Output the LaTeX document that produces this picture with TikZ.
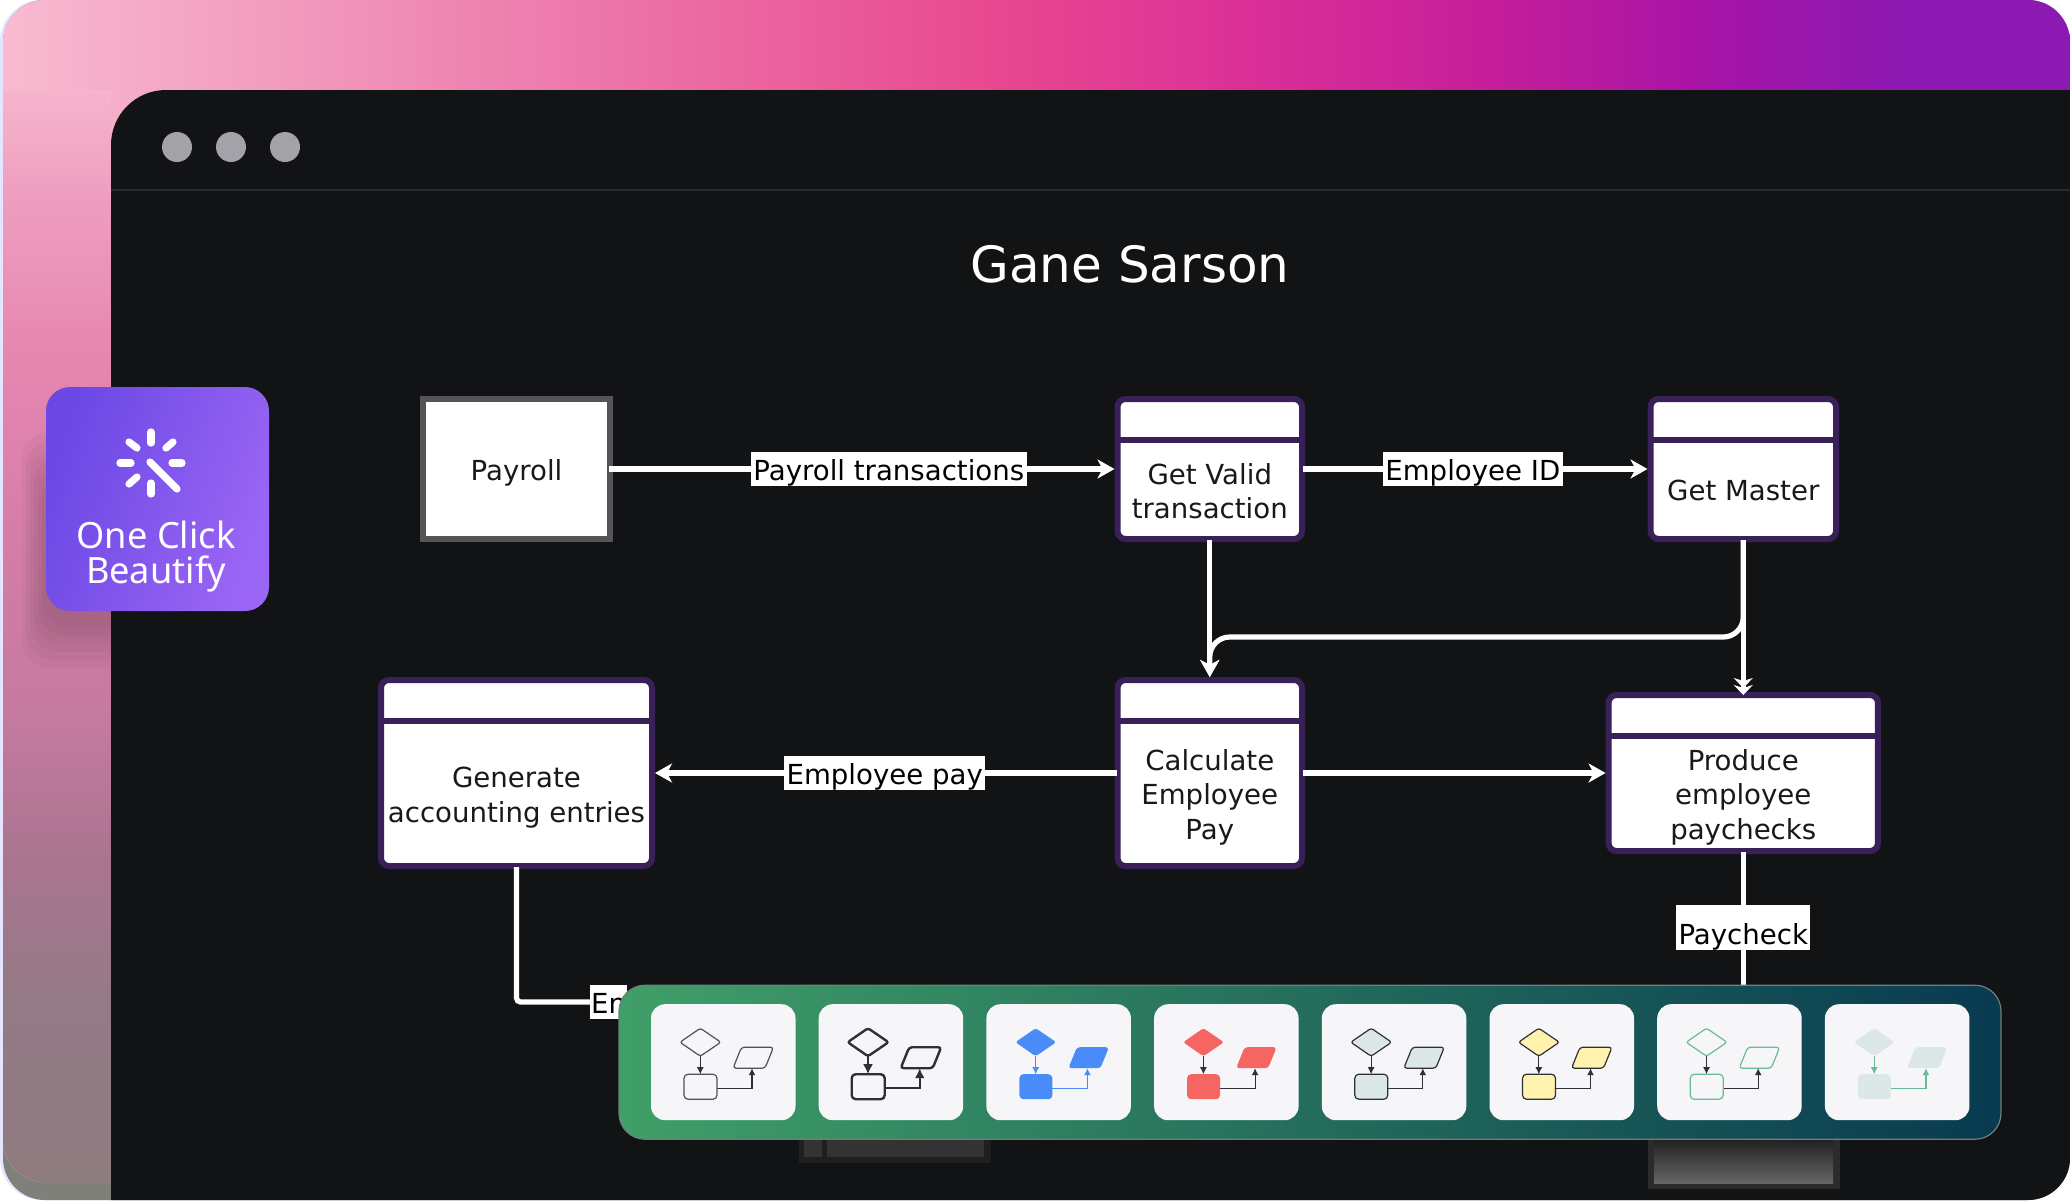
\documentclass[tikz,border=0pt]{standalone}
\usepackage{fontspec}
\setmainfont{DejaVu Sans}
\newfontfamily\btnfont{Noto Sans}
\usepackage{tikz}
\usetikzlibrary{arrows.meta}

\definecolor{windowbg}{HTML}{121314}
\definecolor{procline}{HTML}{3A2058}
\definecolor{extline}{HTML}{555557}
\definecolor{dotgray}{HTML}{A3A2A8}
\definecolor{barline}{HTML}{2A2B2C}
\definecolor{cardbg}{HTML}{F6F6F9}
\definecolor{icongray}{HTML}{505254}
\definecolor{icondark}{HTML}{2E3032}
\definecolor{iconblue}{HTML}{4A8CF7}
\definecolor{iconred}{HTML}{F56662}
\definecolor{iconpale}{HTML}{DCE8E8}
\definecolor{iconyellow}{HTML}{FFF1AE}
\definecolor{icongreen}{HTML}{6AB99D}
\definecolor{panelA}{HTML}{409F68}
\definecolor{panelB}{HTML}{27705F}
\definecolor{panelC}{HTML}{083A50}
\definecolor{panelrim}{HTML}{6F7F7A}
\definecolor{btnA}{HTML}{6B48E4}
\definecolor{btnB}{HTML}{9B66F5}
\definecolor{cornergray}{HTML}{7F807A}

\definecolor{bandA}{HTML}{F8BBD0}
\definecolor{bandB}{HTML}{ED7FAE}
\definecolor{bandC}{HTML}{E8488F}
\definecolor{bandD}{HTML}{DB3097}
\definecolor{bandE}{HTML}{C51E9A}
\definecolor{bandF}{HTML}{A814A6}
\definecolor{bandG}{HTML}{8C1AB2}
\pgfdeclarehorizontalshading{topband}{100bp}{
  color(0bp)=(bandA); color(25bp)=(bandA); color(37.5bp)=(bandB);
  color(49bp)=(bandC); color(55bp)=(bandD); color(61bp)=(bandE);
  color(66bp)=(bandF); color(71bp)=(bandG); color(100bp)=(bandG)}
\definecolor{sideA}{HTML}{8E7C80}
\definecolor{sideB}{HTML}{937A85}
\definecolor{sideC}{HTML}{AA7590}
\definecolor{sideD}{HTML}{C57A9E}
\definecolor{sideE}{HTML}{D67EA8}
\definecolor{sideF}{HTML}{E687B0}
\definecolor{sideG}{HTML}{EF9FC0}
\definecolor{sideH}{HTML}{F6B5CD}
\pgfdeclareverticalshading{sideband}{100bp}{
  color(0bp)=(sideA); color(25bp)=(sideA); color(33bp)=(sideB);
  color(39.7bp)=(sideC); color(46.4bp)=(sideD); color(55bp)=(sideE);
  color(63bp)=(sideF); color(70.4bp)=(sideG); color(75bp)=(sideH); color(100bp)=(sideH)}

\tikzset{
  procbox/.style={draw=procline, line width=3pt, fill=white, rounded corners=4pt},
  extbox/.style={draw=extline, line width=3pt, fill=white, minimum width=93.5pt, minimum height=70pt},
  proctext/.style={align=center, text=black!90, font=\fontsize{13.8}{17.2}\selectfont},
  plainline/.style={white, line width=2.6pt, shorten <=-1pt},
  flowline/.style={plainline, -{Stealth[length=8.5pt,width=9.5pt,inset=2.5pt]}},
  stubflow/.style={plainline, -{Stealth[length=5pt,width=9.5pt,inset=1.5pt]}},
  edgelabel/.style={fill=white, text=black, inner xsep=1.2pt, inner ysep=1pt, text height=13pt, text depth=2pt,
    font=\fontsize{13.8}{15}\selectfont},
  tallabel/.style={edgelabel, text height=18.5pt},
  cardbox/.style={fill=cardbg, rounded corners=7pt},
}

\begin{document}
\begin{tikzpicture}[x=0.5pt, y=-0.5pt]
   \useasboundingbox (0,0) rectangle (2070,1200);
   %
   % backdrop
   \fill[white] (0,0) rectangle (2070,1200);
   \fill[blue!10!white, rounded corners=21pt] (0,0) rectangle (2070,1200);
   \fill[cornergray, rounded corners=21pt] (3,0) rectangle (2070,1200);
   \shade[shading=topband, rounded corners=21pt] (3,0) rectangle (2070,1182);
   \begin{scope}
     \clip[rounded corners=21pt] (3,0) rectangle (2070,1182);
     \shade[shading=sideband] (3,90) rectangle (111,1182);
     % soft shadow of the button
     \foreach \g in {4,8,...,24}
       \fill[black, opacity=0.03, rounded corners=14pt] (46-\g,480-2*\g) rectangle (269+\g,620+2*\g);
   \end{scope}
   %
   % window
   \begin{scope}
     \clip[rounded corners=21pt] (3,0) rectangle (2070,1200);
     \fill[windowbg, rounded corners=27.5pt] (111,90) rectangle (2200,1300);
     \fill[windowbg] (1000,90) rectangle (2070,400);
   \end{scope}
   \draw[barline, line width=1.2pt] (111,190) -- (2070,190);
   \foreach \x in {177,231,285}
     \fill[dotgray] (\x,147) circle (7.5pt);
   %
   \node[white, font=\fontsize{25}{30}\selectfont] (title) at (1130,264) {Gane Sarson};
   %
   % boxes of the data flow
   \node[extbox] (payroll) at (516.5,469) {};
   \node[proctext] (payrolltext) at (516.5,473) {Payroll};
   \foreach \nm/\cx/\cy/\bw/\bh/\hy/\ty/\txt in {
     getvalid/1209.75/469/92.25/70/21.75/491/{Get Valid\\transaction},
     getmaster/1743.25/469/92.75/70/21.75/490/{Get Master},
     calculate/1209.75/773/92.25/93/21.75/797/{Calculate\\Employee\\Pay},
     produce/1743.25/773/134.7/78/22/797/{Produce\\employee\\paychecks},
     generate/516.5/773/135.5/93/21.75/797.5/{Generate\\accounting entries}}
   {
     \node[procbox, minimum width=\bw pt, minimum height=\bh pt] (\nm) at (\cx,\cy) {};
     \draw[procline, line width=3pt] ([yshift=-\hy pt]\nm.north west) -- ([yshift=-\hy pt]\nm.north east);
     \node[proctext] (\nm text) at (\cx,\ty) {\txt};
   }
   %
   % stubs of boxes further down
   \fill[black!88] (799,1138) rectangle (991,1163);
   \fill[black!80] (804,1138) rectangle (821.5,1157);
   \fill[black!80] (827,1138) rectangle (984,1157);
   \fill[black!83] (1648,1138) rectangle (1840,1189);
   \shade[top color=black!88, bottom color=black!60] (1654,1138) rectangle (1833,1183);
   %
   % flows
   \coordinate (bend) at (0,637);
   \coordinate (paytop) at (1743.25,986);
   \draw[flowline, shorten <=-2pt] (payroll.east) -- node[edgelabel, pos=0.55] (paylabel) {Payroll transactions} (getvalid.west);
   \draw[flowline] (getvalid.east) -- node[edgelabel, pos=0.49] (idlabel) {Employee ID} (getmaster.west);
   \draw[flowline] (getvalid.south) -- (calculate.north);
   \draw[flowline, rounded corners=10pt] (getmaster.south) -- (getmaster.south |- bend) -- (calculate.north |- bend) -- (calculate.north);
   \draw[stubflow, shorten >=-1.5pt] (getmaster.south) -- (produce.north);
   \draw[stubflow, shorten >=2pt] (getmaster.south) -- (produce.north);
   \draw[flowline] (calculate.east) -- (produce.west);
   \draw[flowline] (calculate.west) -- node[edgelabel] (emplabel) {Employee pay} (generate.east);
   \draw[plainline] (produce.south) -- node[tallabel, pos=0.56] (checklabel) {Paycheck} (paytop);
   \node[edgelabel, anchor=west, inner xsep=0.4pt] (entrylabel) at (590,1002) {En};
   \draw[plainline, rounded corners=2pt] (generate.south) |- (entrylabel.west);
   %
   % style picker
   \begin{scope}[yshift=-0.6pt]
   \draw[panelrim, line width=0.6pt, left color=panelA, middle color=panelB, right color=panelC, rounded corners=13pt]
        (619,984) rectangle (2001,1138);
   \foreach \i/\iconfill/\iconline/\iconarrow/\iconlw/\iconlen in {
     0/none/icongray/icondark/0.6/3.5,
     1/none/icondark/icondark/1.2/5,
     2/iconblue/none/iconblue/0.6/3.5,
     3/iconred/none/icondark/0.6/3.5,
     4/iconpale/icondark/icondark/0.6/3.5,
     5/iconyellow/icondark/icondark/0.6/3.5,
     6/none/icongreen/icondark/0.6/3.5,
     7/iconpale/none/icongreen/0.6/3.5}
   {
     \begin{scope}[xshift=\i*83.85pt]
       \fill[cardbox] (651,1003) rectangle (795.5,1119);
       \draw[\iconarrow, line width=\iconlw pt, -{Latex[length=\iconlen pt, width=\iconlen pt]}] (700.3,1055) -- (700.3,1073);
       \draw[\iconarrow, line width=\iconlw pt, -{Latex[length=\iconlen pt, width=\iconlen pt]}] (717,1087) -| (752,1067);
       \path[draw=\iconline, fill=\iconfill, line width=\iconlw pt, rounded corners=1.2pt]
            (700.3,1027) -- (720.8,1041) -- (700.3,1055) -- (680,1041) -- cycle;
       \path[draw=\iconline, fill=\iconfill, line width=\iconlw pt, rounded corners=2pt]
            (684,1073) rectangle (717,1098);
       \path[draw=\iconline, fill=\iconfill, line width=\iconlw pt, rounded corners=1.5pt]
            (741.5,1046) -- (773.5,1046) -- (765,1067) -- (733,1067) -- cycle;
     \end{scope}
   }
   \end{scope}
   %
   % beautify button
   \shade[left color=btnA, right color=btnB, shading angle=70, rounded corners=12pt]
        (46,387) rectangle (269,611);
   \foreach \ax/\ay/\bx/\by in {151/432/151/443, 151/483/151/494, 120/463/131/463, 172/463/182/463,
                                166/448/173/442, 129/442/137/448, 129/484/137/477}
     \draw[white, line width=3.6pt, line cap=round] (\ax,\ay) -- (\bx,\by);
   \draw[white, line width=3.6pt, line cap=round] (150,462) -- (177,489);
   \node[white, align=center, font=\btnfont\fontsize{18.1}{17.5}\selectfont] (beautify) at (156,557) {One Click\\Beautify};
   %
\end{tikzpicture}
\end{document}
